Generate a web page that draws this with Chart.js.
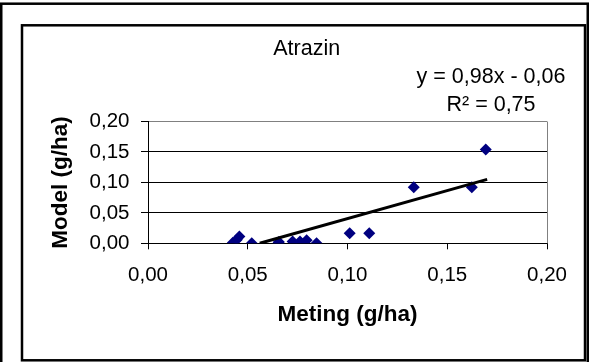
<!DOCTYPE html>
<html>
<head>
<meta charset="utf-8">
<script src="https://cdn.jsdelivr.net/npm/chart.js@4/dist/chart.umd.min.js"></script>
<style>
  html, body { margin: 0; padding: 0; background: #fff; }
  #wrap { width: 589px; height: 362px; position: relative; }
  canvas { display: block; }
</style>
</head>
<body>
<div id="wrap"><canvas id="c" width="589" height="362"></canvas></div>
<script>
// ---- data ----
const chartTitle = 'Atrazin';
const xTitle = 'Meting (g/ha)';
const yTitle = 'Model (g/ha)';
const meting = [0.0425, 0.0445, 0.0458, 0.0520, 0.0653, 0.0656, 0.0725, 0.0762, 0.0795, 0.0845, 0.1011, 0.1109, 0.1332, 0.1623, 0.1693];
const model  = [0.001, 0.006, 0.011, 0.000, 0.000, 0.002, 0.003, 0.003, 0.005, 0.000, 0.0165, 0.0165, 0.092, 0.092, 0.154];
const trendX = [0.056, 0.170];
const trendY = [0.000, 0.105];
const xTickLabels = ['0,00', '0,05', '0,10', '0,15', '0,20'];
const yTickLabels = ['0,00', '0,05', '0,10', '0,15', '0,20'];
const equationLines = ['y = 0,98x - 0,06', 'R\u00B2 = 0,75'];

const FONT = "'Liberation Sans', Arial, Helvetica, sans-serif";

const points = meting.map((x, i) => ({ x: x, y: model[i] }));
const trend = trendX.map((x, i) => ({ x: x, y: trendY[i] }));

const framePlugin = {
  id: 'frame',
  beforeDraw(chart) {
    const ctx = chart.ctx;
    ctx.save();
    ctx.fillStyle = '#fff';
    ctx.fillRect(0, 0, chart.width, chart.height);
    ctx.strokeStyle = '#000';
    ctx.lineWidth = 2.5;
    ctx.strokeRect(1.25, 3.7, 586.5, 362);
    ctx.lineWidth = 2.5;
    ctx.strokeRect(22, 25.3, 563, 335);
    ctx.restore();
  },
  beforeDatasetsDraw(chart) {
    const a = chart.chartArea, ctx = chart.ctx;
    ctx.save();
    ctx.strokeStyle = '#808080';
    ctx.lineWidth = 1;
    ctx.beginPath();
    ctx.moveTo(Math.round(a.right) + 0.5, a.top);
    ctx.lineTo(Math.round(a.right) + 0.5, a.bottom);
    ctx.stroke();
    ctx.restore();
  },
  afterDraw(chart) {
    const ctx = chart.ctx;
    ctx.save();
    ctx.fillStyle = '#000';
    ctx.font = '21.5px ' + FONT;
    ctx.textAlign = 'center';
    ctx.textBaseline = 'middle';
    ctx.fillText(equationLines[0], 491, 76.7);
    ctx.fillText(equationLines[1], 491, 105);
    ctx.restore();
  }
};

new Chart(document.getElementById('c'), {
  type: 'scatter',
  data: {
    datasets: [
      {
        type: 'line',
        label: 'Trend',
        data: trend,
        borderColor: '#000',
        borderWidth: 3,
        pointRadius: 0,
        fill: false,
        order: 0
      },
      {
        label: 'Atrazin',
        data: points,
        backgroundColor: '#000080',
        borderColor: '#000080',
        borderWidth: 0,
        pointStyle: 'rectRot',
        pointRadius: 6,
        order: 1
      }
    ]
  },
  options: {
    responsive: false,
    animation: false,
    devicePixelRatio: 1,
    layout: { padding: { left: 24.4, right: 0, top: 0, bottom: 0 } },
    plugins: {
      legend: { display: false },
      tooltip: { enabled: false },
      title: {
        display: true,
        text: chartTitle,
        color: '#000',
        font: { family: FONT, size: 21.5, weight: 'normal', lineHeight: 1.2 },
        padding: { top: 36.4, bottom: 59.3 }
      }
    },
    scales: {
      x: {
        type: 'linear',
        position: 'bottom',
        min: 0, max: 0.2,
        afterFit(s) { s.height = 118.7; },
        afterBuildTicks(s) { s.ticks = xTickLabels.map((_, i) => ({ value: i * 0.05 })); },
        ticks: {
          color: '#000',
          padding: 13.7,
          maxRotation: 0,
          font: { family: FONT, size: 20.5 },
          callback: (v, i) => xTickLabels[i]
        },
        grid: { drawOnChartArea: false, drawTicks: true, tickLength: 6, tickColor: '#000' },
        border: { display: true, color: '#000', width: 1 },
        title: {
          display: true,
          text: xTitle,
          color: '#000',
          font: { family: FONT, size: 22.5, weight: 'bold', lineHeight: 1.2 },
          padding: { top: 0, bottom: 33.5 }
        }
      },
      y: {
        type: 'linear',
        position: 'left',
        min: 0, max: 0.2,
        afterFit(s) { s.width = 123.6; },
        afterBuildTicks(s) { s.ticks = yTickLabels.map((_, i) => ({ value: i * 0.05 })); },
        ticks: {
          color: '#000',
          padding: 11.5,
          font: { family: FONT, size: 20.5 },
          callback: (v, i) => yTickLabels[i]
        },
        grid: {
          color: (c) => (c.index === yTickLabels.length - 1 ? '#808080' : '#000'),
          lineWidth: 1,
          drawTicks: true,
          tickLength: 7,
          tickColor: '#000'
        },
        border: { display: true, color: '#000', width: 1 },
        title: {
          display: true,
          text: yTitle,
          color: '#000',
          font: { family: FONT, size: 22.5, weight: 'bold', lineHeight: 1.2 },
          padding: { top: 22.8, bottom: 0 }
        }
      },
      yRight: {
        type: 'linear',
        position: 'right',
        display: true,
        afterFit(s) { s.width = 42; },
        ticks: { display: false },
        grid: { display: false, drawTicks: false },
        border: { display: false }
      }
    }
  },
  plugins: [framePlugin]
});
</script>
</body>
</html>
